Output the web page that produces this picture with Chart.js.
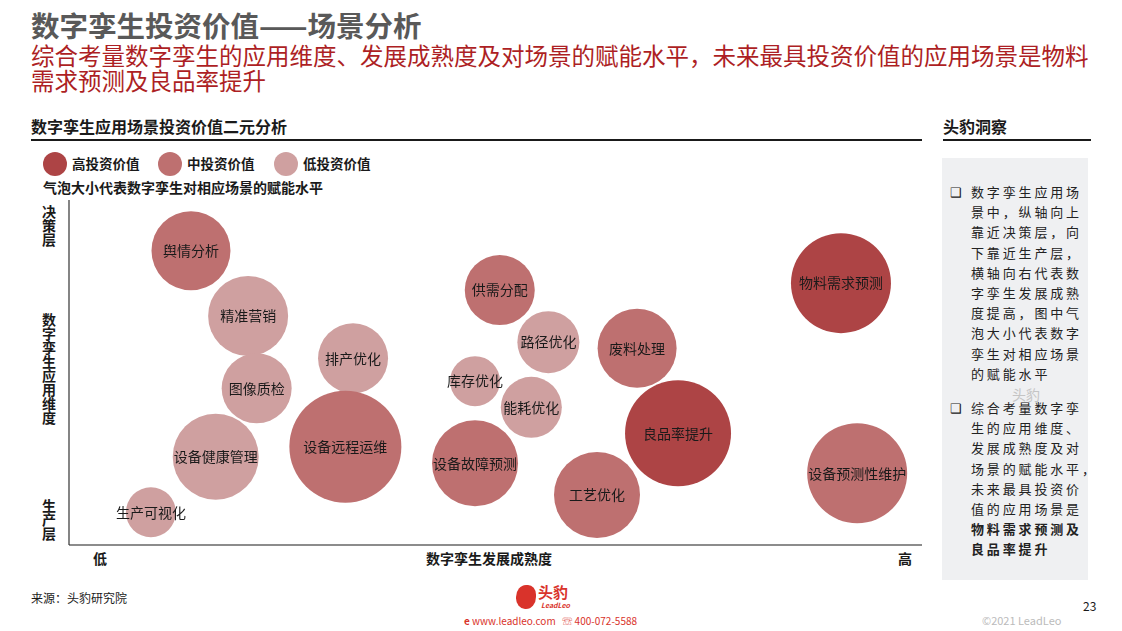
<!DOCTYPE html>
<html>
<head>
<meta charset="utf-8">
<script src="https://cdn.jsdelivr.net/npm/chart.js@4"></script>
<style>
  body { margin: 0; width: 1122px; height: 631px; background: #fff; position: relative; overflow: hidden;
         font-family: "Noto Sans CJK SC", "Noto Sans", sans-serif; color: #1a1a1a; }
  .abs { position: absolute; white-space: nowrap; }
  .title { left: 31px; top: 6px; font-size: 28.5px; font-weight: bold; color: #595959; line-height: 37px; }
  .sub { left: 31px; top: 43px; font-size: 23.5px; color: #ad1f24; line-height: 25px; }
  .sectitle { font-size: 16px; font-weight: bold; line-height: 22px; }
  .rule { position: absolute; height: 2px; background: #1a1a1a; }
  .leg { top: 151px; font-size: 13.5px; font-weight: bold; line-height: 25px; }
  .dot { display: inline-block; width: 24px; height: 24px; border-radius: 50%; vertical-align: middle; margin-right: 5px; position: relative; top: -1px; }
  .ylab { font-size: 14px; font-weight: bold; line-height: 14px; width: 14px; white-space: normal; text-align: center; }
  .xlab { top: 549px; font-size: 14px; font-weight: bold; line-height: 18px; }
  .panel { position: absolute; left: 942px; top: 158px; width: 146px; height: 422px; background: #eff0f2; }
  .bul { left: 950px; font-size: 13px; line-height: 20px; }
  .ptxt { left: 971px; font-size: 13px; line-height: 20.2px; letter-spacing: 2.85px; color: #222; }
</style>
</head>
<body>
<div class="abs title">数字孪生投资价值——场景分析</div>
<div class="abs sub">综合考量数字孪生的应用维度、发展成熟度及对场景的赋能水平，未来最具投资价值的应用场景是物料<br>需求预测及良品率提升</div>

<div class="abs sectitle" style="left:31px;top:115px;">数字孪生应用场景投资价值二元分析</div>
<div class="rule" style="left:31px;top:139px;width:891px;"></div>
<div class="abs sectitle" style="left:943px;top:115px;">头豹洞察</div>
<div class="rule" style="left:943px;top:139px;width:148px;"></div>

<div class="abs leg" style="left:43px;"><span class="dot" style="background:#ad4445"></span>高投资价值</div>
<div class="abs leg" style="left:158px;"><span class="dot" style="background:#be7070"></span>中投资价值</div>
<div class="abs leg" style="left:274px;"><span class="dot" style="background:#cfa0a0"></span>低投资价值</div>
<div class="abs" style="left:43px;top:178px;font-size:14px;font-weight:bold;line-height:19px;">气泡大小代表数字孪生对相应场景的赋能水平</div>

<div class="abs ylab" style="left:42px;top:204px;">决策层</div>
<div class="abs ylab" style="left:42px;top:312px;">数字孪生应用维度</div>
<div class="abs ylab" style="left:42px;top:498px;">生产层</div>
<div class="abs xlab" style="left:93px;">低</div>
<div class="abs xlab" style="left:426px;">数字孪生发展成熟度</div>
<div class="abs xlab" style="left:898px;">高</div>

<div style="position:absolute;left:64px;top:195px;width:863px;height:355px;">
  <canvas id="graficoBubble"></canvas>
</div>

<div class="panel"></div>
<div class="abs bul" style="top:182px;">❑</div>
<div class="abs ptxt" style="top:182px;">数字孪生应用场<br>景中，纵轴向上<br>靠近决策层，向<br>下靠近生产层，<br>横轴向右代表数<br>字孪生发展成熟<br>度提高，图中气<br>泡大小代表数字<br>孪生对相应场景<br>的赋能水平</div>
<div class="abs" style="left:1012px;top:384px;font-size:14px;color:#c4c4c4;">头豹</div>
<div class="abs bul" style="top:398px;">❑</div>
<div class="abs ptxt" style="top:398px;">综合考量数字孪<br>生的应用维度、<br>发展成熟度及对<br>场景的赋能水平，<br>未来最具投资价<br>值的应用场景是<br><b>物料需求预测及</b><br><b>良品率提升</b></div>

<div class="abs" style="left:31px;top:589px;font-size:12px;">来源：头豹研究院</div>
<div class="abs" style="left:516px;top:585px;width:20px;height:24px;background:#d9332b;border-radius:50% 40% 50% 45%;"></div>
<div class="abs" style="left:538px;top:583px;font-size:15px;font-weight:bold;color:#d9332b;line-height:18px;">头豹</div>
<div class="abs" style="left:541px;top:600px;font-size:7px;font-weight:bold;font-style:italic;color:#d9332b;">LeadLeo</div>
<div class="abs" style="left:464px;top:613px;font-size:10px;color:#d9332b;"><b>e</b> www.leadleo.com &nbsp; ☏ 400-072-5588</div>
<div class="abs" style="left:1083px;top:597px;font-size:12px;">23</div>
<div class="abs" style="left:982px;top:612px;font-size:11px;color:#bbb;">©2021 LeadLeo</div>

<script>
// 场景、投资价值等级、发展成熟度(x)、应用维度(y)、赋能水平(气泡半径)
const scenes = ['舆情分析', '精准营销', '图像质检', '设备健康管理', '生产可视化', '排产优化', '设备远程运维',
    '供需分配', '路径优化', '库存优化', '能耗优化', '设备故障预测', '废料处理', '良品率提升', '工艺优化',
    '物料需求预测', '设备预测性维护'];
const levels = ['mid', 'low', 'low', 'low', 'low', 'low', 'mid',
    'mid', 'low', 'low', 'low', 'mid', 'mid', 'high', 'mid',
    'high', 'mid'];
const maturity = [14.3, 21.0, 22.0, 17.2, 9.6, 33.3, 32.4, 50.5, 56.2, 47.6, 54.2, 47.6, 66.6, 71.4, 61.9, 90.5, 92.4];
const dimension = [85.3, 66.4, 45.4, 25.6, 9.5, 54.1, 28.5, 73.9, 58.8, 47.5, 39.9, 23.7, 57.0, 32.4, 14.5, 75.9, 20.8];
const empower = [39.5, 40, 35, 43, 25, 35, 56, 35, 31, 25, 30.5, 43, 39.5, 53, 43, 50, 50];

const levelColors = { high: '#ad4445', mid: '#be7070', low: '#cfa0a0' };

const axisLines = {
    id: 'axisLines',
    beforeDatasetsDraw(chart) {
        const { ctx, chartArea } = chart;
        ctx.save();
        ctx.strokeStyle = '#8c8c8c';
        ctx.lineWidth = 2;
        ctx.beginPath();
        ctx.moveTo(chartArea.left, chartArea.bottom);
        ctx.lineTo(chartArea.right, chartArea.bottom);
        ctx.stroke();
        ctx.strokeStyle = '#333';
        ctx.lineWidth = 1.2;
        ctx.beginPath();
        ctx.moveTo(chartArea.left, chartArea.top);
        ctx.lineTo(chartArea.left, chartArea.bottom);
        ctx.stroke();
        ctx.restore();
    }
};

const bubbleLabels = {
    id: 'bubbleLabels',
    afterDatasetsDraw(chart) {
        const { ctx } = chart;
        const meta = chart.getDatasetMeta(0);
        ctx.save();
        ctx.font = '14px "Noto Sans CJK SC", sans-serif';
        ctx.fillStyle = '#1a1a1a';
        ctx.textAlign = 'center';
        ctx.textBaseline = 'middle';
        meta.data.forEach((pt, i) => {
            ctx.fillText(scenes[i], pt.x, pt.y);
        });
        ctx.restore();
    }
};

const ctx1 = document.getElementById('graficoBubble').getContext('2d');

const graficoBubble = new Chart(ctx1, {
    type: 'bubble',
    data: {
        datasets: [{
            data: maturity.map((x, i) => ({ x: x, y: dimension[i], r: empower[i] })),
            backgroundColor: levels.map(l => levelColors[l]),
            borderWidth: 0,
            hoverRadius: 0,
            clip: false
        }]
    },
    options: {
        responsive: true,
        maintainAspectRatio: false,
        animation: false,
        layout: { autoPadding: false, padding: 5 },
        plugins: {
            legend: { display: false },
            tooltip: { enabled: false }
        },
        scales: {
            x: { min: 0, max: 100, display: false },
            y: { min: 0, max: 100, display: false }
        }
    },
    plugins: [axisLines, bubbleLabels]
});
</script>
</body>
</html>
